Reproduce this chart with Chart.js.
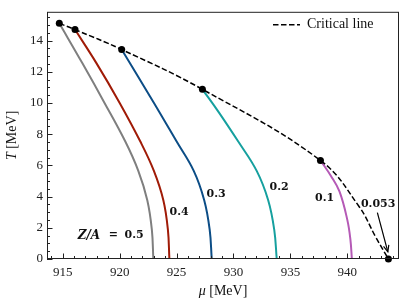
<!DOCTYPE html>
<html>
<head>
<meta charset="utf-8">
<script src="https://cdn.jsdelivr.net/npm/chart.js@4"></script>
<style>
html,body{margin:0;padding:0;background:#fff;}
#wrap{width:407px;height:305px;position:relative;}
</style>
</head>
<body>
<div id="wrap"><canvas id="c" width="407" height="305"></canvas></div>
<script>
// ---- data ----
const xTickValues = [915, 920, 925, 930, 935, 940];
const yTickValues = [0, 2, 4, 6, 8, 10, 12, 14];

const za05Mu = [914.70, 916.72, 918.65, 920.50, 921.64, 922.43, 922.83, 922.96];
const za05T  = [15.11, 12.56, 10.04, 7.53, 5.65, 3.77, 1.88, 0];
const za04Mu = [916.08, 917.96, 919.98, 921.82, 923.01, 923.84, 924.24, 924.37];
const za04T  = [14.71, 12.56, 10.04, 7.53, 5.65, 3.77, 1.88, 0];
const za03Mu = [920.18, 922.99, 925.01, 926.51, 927.43, 927.91, 928.09];
const za03T  = [13.43, 10.04, 7.53, 5.65, 3.77, 1.88, 0];
const za02Mu = [927.27, 928.70, 930.42, 932.04, 933.05, 933.58, 933.80];
const za02T  = [10.88, 9.42, 7.53, 5.65, 3.77, 1.88, 0];
const za01Mu = [937.64, 938.55, 939.31, 940.00, 940.27, 940.40];
const za01T  = [6.32, 5.34, 4.33, 2.51, 1.26, 0];

const critLineMu = [914.7, 916.08, 920.18, 927.27, 937.64, 941.0, 942.5, 943.61];
const critLineT  = [15.11, 14.71, 13.43, 10.88, 6.32, 3.4, 1.4, 0];
const critPointMu = [914.7, 916.08, 920.18, 927.27, 937.64, 943.61];
const critPointT  = [15.11, 14.71, 13.43, 10.88, 6.32, 0];

const curveLabels = ['0.5', '0.4', '0.3', '0.2', '0.1'];
const legendLabel = 'Critical line';
const arrowLabel = '0.053';

// ---- build ----
const pts = (xs, ys) => xs.map((x, i) => ({x: x, y: ys[i]}));
const colors = ['#7f7f7f', '#a01b07', '#0c4d86', '#16a09f', '#b55ab6'];
const curves = [[za05Mu, za05T], [za04Mu, za04T], [za03Mu, za03T], [za02Mu, za02T], [za01Mu, za01T]];

const datasets = [];
datasets.push({
  label: 'critical points', data: pts(critPointMu, critPointT), showLine: false,
  pointRadius: 3.5, pointBackgroundColor: '#000', pointBorderColor: '#000', pointBorderWidth: 0, clip: false
});
datasets.push({
  label: legendLabel, data: pts(critLineMu, critLineT), showLine: true,
  borderColor: '#000', borderWidth: 1.5, borderDash: [5.5, 2.5], pointRadius: 0,
  tension: 0.4, clip: false
});
curves.forEach((c, i) => {
  datasets.push({
    label: 'Z/A=' + curveLabels[i], data: pts(c[0], c[1]), showLine: true,
    borderColor: colors[i], borderWidth: 2, pointRadius: 0,
    tension: 0.4
  });
});

// annotation positions in data coordinates
const textAnn = [
  {v: 'Z/A', it: true, size: 12, mu: 917.3, T: 1.51},
  {v: '=', mu: 919.45, T: 1.51},
  {v: curveLabels[0], mu: 921.27, T: 1.51},
  {v: curveLabels[1], mu: 925.22, T: 2.98},
  {v: curveLabels[2], mu: 928.47, T: 4.14},
  {v: curveLabels[3], mu: 934.01, T: 4.61},
  {v: curveLabels[4], mu: 938.0, T: 3.89},
  {v: arrowLabel, mu: 942.71, T: 3.52}
];
const arrowFrom = {mu: 942.64, T: 2.97};
const arrowTo = {mu: 943.56, T: 0.46};

const SERIF = '"Liberation Serif", "DejaVu Serif", serif';
const BOLD = '"DejaVu Serif", serif';

const decor = {
  id: 'decor',
  afterDatasetsDraw(chart) {
    const ctx = chart.ctx, a = chart.chartArea;
    const xs = chart.scales.x, ys = chart.scales.y;
    ctx.save();
    // frame
    ctx.strokeStyle = '#222'; ctx.lineWidth = 1;
    ctx.strokeRect(a.left + 0.5, a.top + 0.5, a.right - a.left - 1, a.bottom - a.top - 1);
    // ticks (inward)
    ctx.beginPath();
    for (let v = 914; v <= 944; v += 1) {
      const px = Math.round(xs.getPixelForValue(v)) + 0.5;
      const len = (v % 5 === 0) ? 5.5 : 3;
      ctx.moveTo(px, a.bottom); ctx.lineTo(px, a.bottom - len);
    }
    for (let v = 0; v <= 15.5; v += 0.5) {
      const py = Math.round(ys.getPixelForValue(v)) + 0.5;
      const len = (v % 2 === 0) ? 5.5 : 3;
      ctx.moveTo(a.left, py); ctx.lineTo(a.left + len, py);
    }
    ctx.stroke();
    // annotations
    ctx.fillStyle = '#111'; ctx.textBaseline = 'middle'; ctx.textAlign = 'center';
    textAnn.forEach(t => {
      const px = xs.getPixelForValue(t.mu), py = ys.getPixelForValue(t.T);
      ctx.font = (t.it ? 'italic ' : '') + 'bold ' + (t.size || 11) + 'px ' + BOLD;
      ctx.fillText(t.v, px, py);
    });
    // arrow
    const ax0 = xs.getPixelForValue(arrowFrom.mu), ay0 = ys.getPixelForValue(arrowFrom.T);
    const ax1 = xs.getPixelForValue(arrowTo.mu), ay1 = ys.getPixelForValue(arrowTo.T);
    ctx.strokeStyle = '#000'; ctx.lineWidth = 1.2;
    ctx.beginPath(); ctx.moveTo(ax0, ay0); ctx.lineTo(ax1, ay1); ctx.stroke();
    const ang = Math.atan2(ay1 - ay0, ax1 - ax0), hl = 7, hw = 0.4;
    ctx.beginPath();
    ctx.moveTo(ax1 - hl * Math.cos(ang - hw), ay1 - hl * Math.sin(ang - hw));
    ctx.lineTo(ax1, ay1);
    ctx.lineTo(ax1 - hl * Math.cos(ang + hw), ay1 - hl * Math.sin(ang + hw));
    ctx.stroke();
    // legend
    const ly = a.top + 13;
    ctx.setLineDash([5.5, 2.5]); ctx.lineWidth = 1.5;
    ctx.beginPath(); ctx.moveTo(a.right - 126, ly); ctx.lineTo(a.right - 99, ly); ctx.stroke();
    ctx.setLineDash([]);
    ctx.font = '14px ' + SERIF; ctx.textAlign = 'left'; ctx.fillStyle = '#111';
    ctx.fillText(legendLabel, a.right - 92, ly);
    // axis titles
    const drawMixed = (parts, x, y) => {
      let tot = 0;
      parts.forEach(p => { ctx.font = p[1] + '14px ' + SERIF; p.w = ctx.measureText(p[0]).width; tot += p.w; });
      let cx = x - tot / 2;
      ctx.textAlign = 'left';
      parts.forEach(p => { ctx.font = p[1] + '14px ' + SERIF; ctx.fillText(p[0], cx, y); cx += p.w; });
    };
    drawMixed([['μ', 'italic '], [' [MeV]', '']], (a.left + a.right) / 2, 291);
    ctx.save();
    ctx.translate(12, (a.top + a.bottom) / 2);
    ctx.rotate(-Math.PI / 2);
    drawMixed([['T', 'italic '], [' [MeV]', '']], 0, 0);
    ctx.restore();
    ctx.restore();
  }
};

new Chart(document.getElementById('c'), {
  type: 'scatter',
  data: {datasets: datasets},
  options: {
    responsive: false, animation: false,
    layout: {padding: {left: 0, right: 8, top: 6, bottom: 0}},
    plugins: {legend: {display: false}, tooltip: {enabled: false}},
    scales: {
      x: {
        type: 'linear', min: 913.62, max: 944.54,
        grid: {display: false, drawTicks: false}, border: {display: false},
        afterBuildTicks: s => { s.ticks = xTickValues.map(v => ({value: v})); },
        afterFit: s => { s.height = 46; },
        ticks: {color: '#222', padding: 6, font: {family: SERIF, size: 13}, maxRotation: 0, callback: v => String(v)}
      },
      y: {
        type: 'linear', min: 0, max: 15.85,
        grid: {display: false, drawTicks: false}, border: {display: false},
        afterBuildTicks: s => { s.ticks = yTickValues.map(v => ({value: v})); },
        afterFit: s => { s.width = 47; },
        ticks: {color: '#222', padding: 4, font: {family: SERIF, size: 13}, callback: v => String(v)}
      }
    }
  },
  plugins: [decor]
});
</script>
</body>
</html>
